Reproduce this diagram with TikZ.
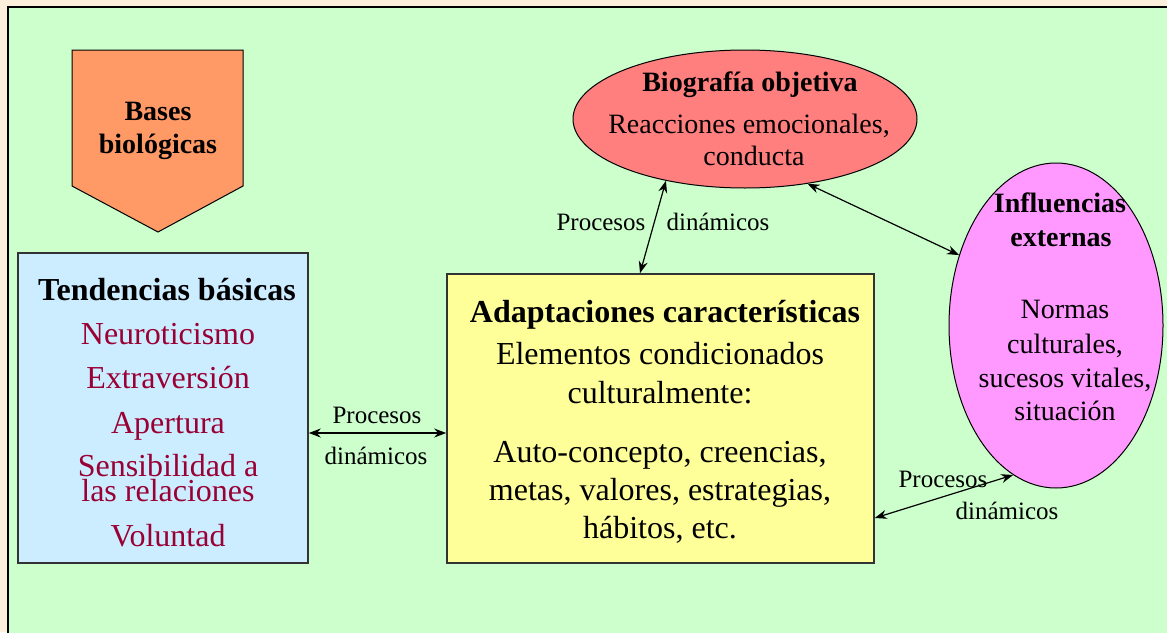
\documentclass[tikz,border=0pt]{standalone}
\usepackage{fontspec}
\setmainfont{Liberation Serif}
\usetikzlibrary{shapes.geometric, arrows.meta}
\tikzset{>={Stealth[length=12pt,width=9pt]}}
\definecolor{bgbeige}{HTML}{FCF0DC}
\definecolor{bggreen}{HTML}{CCFFCC}
\definecolor{basesorange}{HTML}{FF9966}
\definecolor{tendblue}{HTML}{CCECFF}
\definecolor{adaptyellow}{HTML}{FFFF99}
\definecolor{biored}{HTML}{FF7F7F}
\definecolor{inflpink}{HTML}{FF99FF}
\definecolor{traitred}{HTML}{990033}

\begin{document}
\begin{tikzpicture}[x=1pt, y=-1pt,
  box/.style={draw=black!80, line width=1.6pt, inner sep=0pt},
  oval/.style={ellipse, draw, line width=1pt, inner sep=0pt},
  head/.style={anchor=base, font=\fontsize{32}{38}\selectfont\bfseries},
  subhead/.style={anchor=base, font=\fontsize{28}{34}\selectfont\bfseries},
  body/.style={anchor=base, font=\fontsize{32}{38}\selectfont},
  small/.style={anchor=base, font=\fontsize{28}{34}\selectfont},
  lbl/.style={anchor=base, font=\fontsize{25}{30}\selectfont},
  conn/.style={<->, line width=1.2pt}]
\useasboundingbox (0,0) rectangle (1167,632);
\clip (0,0) rectangle (1167,632);
\fill[bgbeige] (0,0) rectangle (1167,632);
\draw[fill=bggreen, line width=1.5pt] (8,7) rectangle (1190,660);

\draw[fill=basesorange, line width=1pt] (72,50) -- (243,50) -- (243,186) -- (158,232) -- (72,186) -- cycle;
\node[subhead] (bases1) at (158,120) {Bases};
\node[subhead] (bases2) at (158,153) {biológicas};

\node[box, fill=tendblue, minimum width=290pt, minimum height=310pt] (tend) at (163,408) {};
\node[head] (tendtitle) at (167,300) {Tendencias básicas};
\foreach \y/\txt [count=\i] in {344/Neuroticismo, 388/Extraversión, 433/Apertura,
    476/Sensibilidad a, 501/las relaciones, 546/Voluntad}
  \node[body, text=traitred] (trait\i) at (168,\y) {\txt};

\node[box, fill=adaptyellow, minimum width=427pt, minimum height=289pt] (adapt) at (660.5,418.5) {};
\node[head] (adapttitle) at (665,322) {Adaptaciones características};
\foreach \y/\txt [count=\i] in {364/Elementos condicionados, 403/culturalmente:,
    462/{Auto-concepto, creencias,}, 500/{metas, valores, estrategias,}, 538/{hábitos, etc.}}
  \node[body] (adapt\i) at (660,\y) {\txt};

\node[oval, fill=biored, minimum width=344pt, minimum height=138pt] (bio) at (745,119) {};
\node[subhead] (biotitle) at (750,91) {Biografía objetiva};
\node[small] (bio1) at (749,133) {Reacciones emocionales,};
\node[small] (bio2) at (754,165) {conducta};

\node[oval, fill=inflpink, minimum width=214pt, minimum height=325pt] (infl) at (1056,325.5) {};
\node[subhead] (infltitle1) at (1060,212) {Influencias};
\node[subhead] (infltitle2) at (1061,246) {externas};
\foreach \y/\txt [count=\i] in {318/Normas, 353/{culturales,}, 387/{sucesos vitales,}, 420/situación}
  \node[small] (infl\i) at (1065,\y) {\txt};

\coordinate (hA) at (0,433);
\coordinate (hB) at (0,518);
\coordinate (vA) at (640,0);
\draw[conn] (tend.east |- hA) -- (adapt.west |- hA);
\draw[conn] (adapt.north -| vA) -- (bio.218);
\draw[conn] (bio.314) -- (infl.144);
\draw[conn] (adapt.east |- hB) -- (infl.254);

\node[lbl] (procA) at (377,423) {Procesos};
\node[lbl] (dinA) at (376,464) {dinámicos};
\node[lbl] (procB) at (601,230) {Procesos};
\node[lbl] (dinB) at (718,230) {dinámicos};
\node[lbl] (procC) at (943,487) {Procesos};
\node[lbl] (dinC) at (1007,519) {dinámicos};
\end{tikzpicture}
\end{document}
